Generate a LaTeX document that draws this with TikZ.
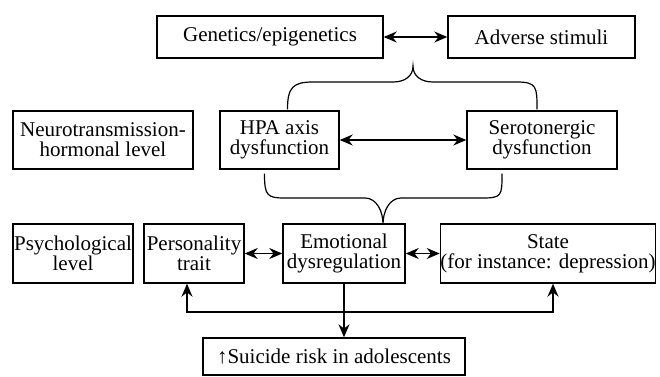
\documentclass[tikz,border=0pt]{standalone}
\usepackage{fontspec}
\setmainfont{Liberation Serif}
\usetikzlibrary{arrows.meta,calc}

\begin{document}
\begin{tikzpicture}[x=1pt,y=-1pt,>={Stealth[length=13pt,width=11pt]},
  box/.style={draw,line width=1.4pt,align=center,inner sep=0pt,font=\fontsize{21}{20}\selectfont},
  link/.style={line width=1.3pt},
  brace/.style={line width=1.2pt}]
\useasboundingbox (0,0) rectangle (660,376);
% top level
\node[box,minimum width=226,minimum height=42] (gen) at (270,37) {Genetics/epigenetics};
\node[box,minimum width=187,minimum height=42] (adv) at (541.5,37) {Adverse stimuli};
% neurotransmission level
\node[box,minimum width=180,minimum height=58] (neuro) at (103,140) {Neurotransmission-\\hormonal level};
\node[box,minimum width=119,minimum height=58] (hpa) at (279.5,140) {HPA axis\\dysfunction};
\node[box,minimum width=150,minimum height=58] (sero) at (542,140) {Serotonergic\\dysfunction};
% psychological level
\node[box,minimum width=120,minimum height=59] (psych) at (73,253.5) {Psychological\\level};
\node[box,minimum width=100,minimum height=59] (pers) at (194,253.5) {Personality\\trait};
\node[box,minimum width=122,minimum height=59] (emo) at (344,253.5) {Emotional\\dysregulation};
\node[box,minimum width=214,minimum height=59] (state) at (548,253.5) {State\\(for instance: depression)};
\node[box,minimum width=262,minimum height=37] (suic) at (334,356.5) {↑Suicide risk in adolescents};
\coordinate (tipA) at (413,66);
\coordinate (tipB) at (383,224);
\coordinate (bar) at (344,312);
% braces
\draw[brace] ($(hpa.north)+(8,-1)$) .. controls +(0,-22) and +(-20,0) .. (313,82) -- (393,82)
  .. controls +(12,0) and +(0,10) .. (tipA) .. controls +(0,10) and +(-12,0) .. (433,82) -- (517,82)
  .. controls +(20,0) and +(0,-22) .. ($(sero.north)+(-5,-1)$);
\draw[brace] ($(hpa.south)+(-15,4)$) .. controls +(0,22) and +(-18,0) .. (285,198) -- (365,198)
  .. controls +(12,0) and +(0,-12) .. (tipB) .. controls +(0,-12) and +(-12,0) .. (401,198) -- (482,198)
  .. controls +(20,0) and +(0,22) .. ($(sero.south)+(-40,4)$);
% arrows
\draw[link,<->] (gen) -- (adv);
\draw[link,<->] (hpa) -- (sero);
\draw[link,<->] (pers) -- (emo);
\draw[link,<->] (emo) -- (state);
\draw[link,->] (emo.south) -- (emo.south |- suic.north);
\draw[link,<->] ($(pers.south)+(-7,0)$) |- (bar) -| ($(state.south)+(5,0)$);
\end{tikzpicture}
\end{document}
